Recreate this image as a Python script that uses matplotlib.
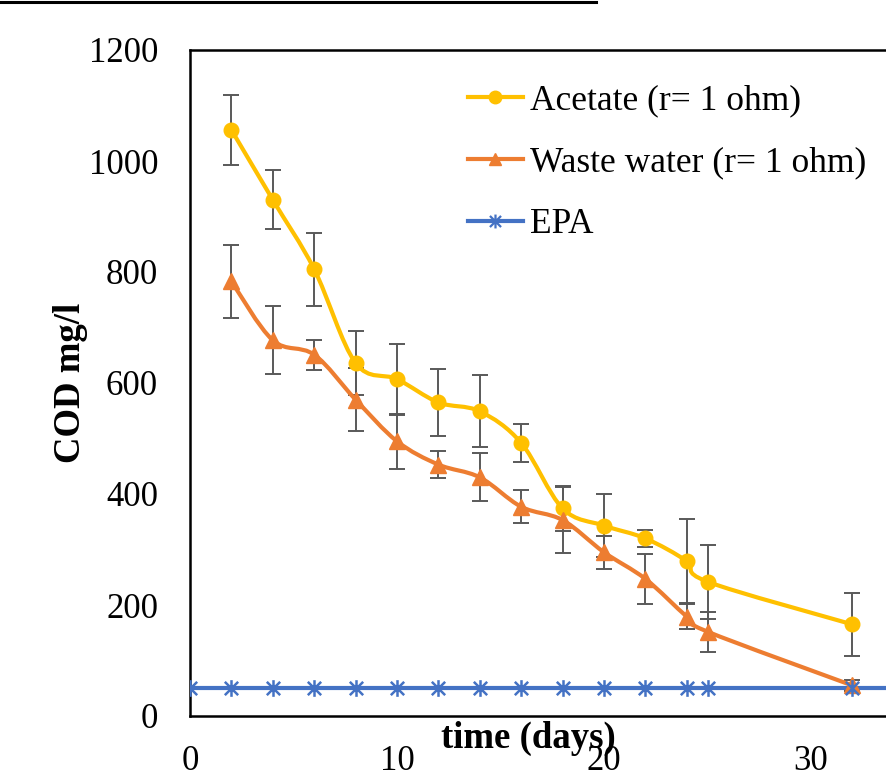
import matplotlib
matplotlib.use('Agg')
import matplotlib.pyplot as plt
import numpy as np
from matplotlib.path import Path
from matplotlib.patches import PathPatch
from matplotlib.lines import Line2D

# values
days = [2, 4, 6, 8, 10, 12, 14, 16, 18, 20, 22, 24, 25, 32]
acetate = [1056, 930, 805, 636, 607, 565, 549, 492, 374, 343, 320, 279, 242, 165]
acetate_err = [63, 53, 66, 57, 64, 61, 65, 34, 40, 57, 16, 76, 67, 56]
waste = [783, 677, 651, 570, 495, 453, 430, 377, 353, 295, 247, 179, 152, 55]
waste_err = [66, 61, 27, 57, 50, 24, 43, 30, 60, 30, 45, 22, 36, 10]
epa_days = [0, 2, 4, 6, 8, 10, 12, 14, 16, 18, 20, 22, 24, 25, 32, 35]
epa = [50] * len(epa_days)

series_labels = ['Acetate (r= 1 ohm)', 'Waste water (r= 1 ohm)', 'EPA']
x_ticks = [0, 10, 20, 30]
y_ticks = [0, 200, 400, 600, 800, 1000, 1200]

ACETATE = '#FFC000'
WASTE = '#ED7D31'
EPA = '#4472C4'
ERR = '#595959'
# Excel "star" marker: an X with a vertical stroke through it
EPA_MARKER = Path([(0, -1), (0, 1), (-0.8, -0.8), (0.8, 0.8), (-0.8, 0.8), (0.8, -0.8)],
                  [Path.MOVETO, Path.LINETO] * 3)

plt.rcParams['font.family'] = ['Liberation Serif', 'DejaVu Serif']


def smooth_path(x, y):
    """Excel-like smoothed line: cubic Bezier through every data point."""
    pts = np.column_stack([x, y]).astype(float)
    n = len(pts)
    verts = [pts[0]]
    codes = [Path.MOVETO]
    for i in range(n - 1):
        p_prev = pts[i - 1] if i > 0 else pts[i]
        p_next2 = pts[i + 2] if i + 2 < n else pts[i + 1]
        c1 = pts[i] + (pts[i + 1] - p_prev) / 6.0
        c2 = pts[i + 1] - (p_next2 - pts[i]) / 6.0
        verts += [c1, c2, pts[i + 1]]
        codes += [Path.CURVE4] * 3
    return Path(verts, codes)


fig = plt.figure(figsize=(8.86, 7.75), dpi=100)
ax = fig.add_axes([190 / 886, 59 / 775, 724.5 / 886, 666 / 775])

# error bars
ax.errorbar(days, acetate, yerr=acetate_err, fmt='none', ecolor=ERR,
            elinewidth=1.4, capsize=6, capthick=1.4, zorder=2)
ax.errorbar(days, waste, yerr=waste_err, fmt='none', ecolor=ERR,
            elinewidth=1.4, capsize=6, capthick=1.4, zorder=2)

# smoothed lines
for xs, ys, col in [(days, acetate, ACETATE), (days, waste, WASTE)]:
    ax.add_patch(PathPatch(smooth_path(xs, ys), facecolor='none', edgecolor=col,
                           lw=3, capstyle='round', joinstyle='round', zorder=3))
ax.plot(epa_days, epa, color=EPA, lw=3, zorder=3)

# markers
ax.plot(days, acetate, ls='none', marker='o', ms=10.5, color=ACETATE, zorder=4)
ax.plot(days, waste, ls='none', marker='^', ms=11, color=WASTE, zorder=4)
ax.plot(epa_days, epa, ls='none', marker=EPA_MARKER, ms=12, mew=1.8,
        color=EPA, zorder=4)

ax.set_xlim(0, 35)
ax.set_ylim(0, 1200)
ax.set_xticks(x_ticks)
ax.set_yticks(y_ticks)
ax.tick_params(axis='both', length=0, labelsize=25)
ax.tick_params(axis='x', pad=21)
ax.tick_params(axis='y', pad=23)

for s in ax.spines.values():
    s.set_linewidth(1.8)
    s.set_color('black')
ax.spines['right'].set_visible(False)

ax.set_xlabel('time (days)', fontsize=26.5, fontweight='bold')
ax.xaxis.set_label_coords((528 - 190) / 724.5, -(738 - 716) / 666)
ax.xaxis.label.set_va('center')
ax.set_ylabel('COD mg/l', fontsize=26.5, fontweight='bold')
ax.yaxis.set_label_coords(-(190 - 70) / 724.5, (716 - 383) / 666)
ax.yaxis.label.set_va('center')

handles = [
    Line2D([], [], color=ACETATE, lw=3, marker='o', ms=9),
    Line2D([], [], color=WASTE, lw=3, marker='^', ms=9),
    Line2D([], [], color=EPA, lw=3, marker=EPA_MARKER, ms=10, mew=1.6),
]
ax.legend(handles, series_labels, loc='upper left', frameon=False,
          bbox_to_anchor=(468 / 886, 1 - 84 / 775), bbox_transform=fig.transFigure,
          fontsize=25.5, handlelength=1.55, handletextpad=0.2,
          labelspacing=0.82, borderpad=0, borderaxespad=0)

# edge of a frame cropped at the top of the image
fig.add_artist(Line2D([0, 596 / 886], [1 - 1.5 / 775, 1 - 1.5 / 775],
                      transform=fig.transFigure, color='black', lw=2.2))

fig.savefig('out.png', dpi=100)
